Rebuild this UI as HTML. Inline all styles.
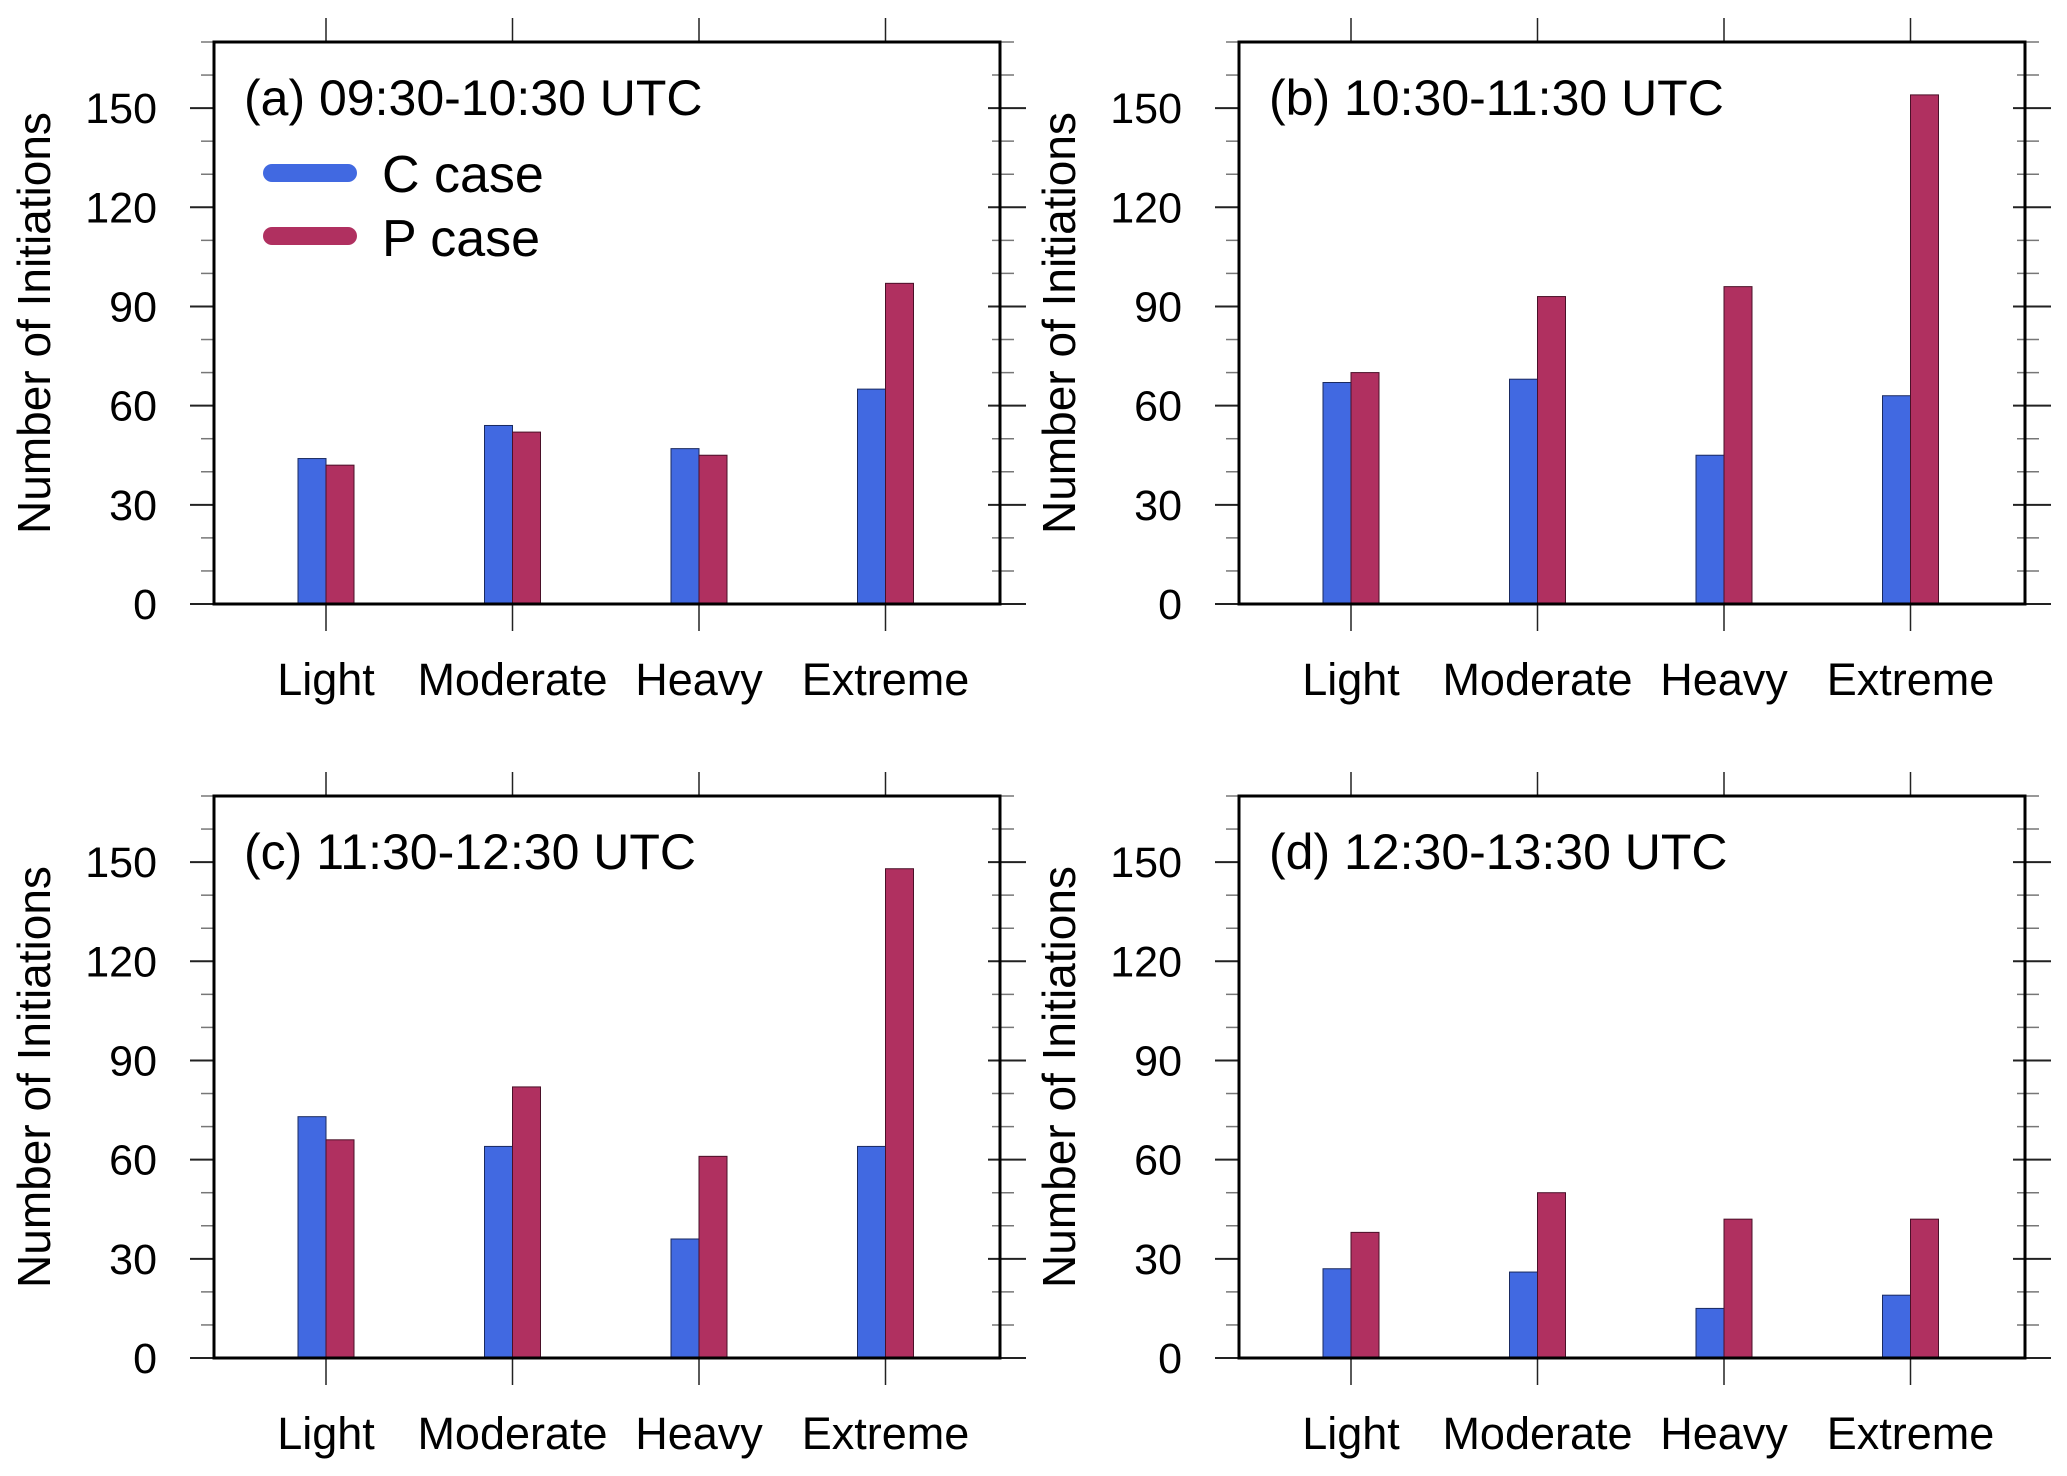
<!DOCTYPE html>
<html><head><meta charset="utf-8"><style>
html,body{margin:0;padding:0;background:#fff;}
svg{display:block;font-family:"Liberation Sans",sans-serif;}
</style></head><body>
<svg id="chart" width="2067" height="1476" viewBox="0 0 2067 1476" xmlns="http://www.w3.org/2000/svg"></svg>
<script>
const categories = ["Light","Moderate","Heavy","Extreme"];
const panelTitles = ["(a) 09:30-10:30 UTC","(b) 10:30-11:30 UTC","(c) 11:30-12:30 UTC","(d) 12:30-13:30 UTC"];
const cValuesA = [44,54,47,65];
const pValuesA = [42,52,45,97];
const cValuesB = [67,68,45,63];
const pValuesB = [70,93,96,154];
const cValuesC = [73,64,36,64];
const pValuesC = [66,82,61,148];
const cValuesD = [27,26,15,19];
const pValuesD = [38,50,42,42];
const yTickLabels = [0,30,60,90,120,150];
const yMax = 170;

const NS="http://www.w3.org/2000/svg";
const svg=document.getElementById('chart');
function mk(tag,attrs,parent){const e=document.createElementNS(NS,tag);for(const k in attrs)e.setAttribute(k,attrs[k]);(parent||svg).appendChild(e);return e;}

const panels=[
 {dx:0,dy:0,c:cValuesA,p:pValuesA,legend:true},
 {dx:1025,dy:0,c:cValuesB,p:pValuesB},
 {dx:0,dy:754,c:cValuesC,p:pValuesC},
 {dx:1025,dy:754,c:cValuesD,p:pValuesD}
];
const L=214,R=1000,T=42,B=604;
const yScale=v=>B-(v/yMax)*(B-T);
const xScale=i=>326+186.5*i;
const bw=28;

panels.forEach((pn,pi)=>{
 const g=mk('g',{transform:`translate(${pn.dx},${pn.dy})`});
 
 
 for(let v=0;v<=yMax;v+=10){
  const y=yScale(v), major=v%30===0;
  const t1=mk('line',{x1:major?190:201,x2:L,y1:y,y2:y,stroke:major?'#222':'#777','stroke-width':major?2:1.5},g);
  
  
  const t2=mk('line',{x1:major?988:992,x2:major?1026:1014,y1:y,y2:y,stroke:major?'#222':'#777','stroke-width':major?2:1.5},g);
  
  
 }
 yTickLabels.forEach(v=>{
  const t=mk('text',{x:157,y:yScale(v)+15,'text-anchor':'end','font-size':43,fill:'#000'},g);
  t.textContent=v;
  
  
 });
 categories.forEach((c,i)=>{
  const x=xScale(i);
  const tt=mk('line',{x1:x,x2:x,y1:18,y2:T,stroke:'#222','stroke-width':1.5},g);
  
  
  const tb=mk('line',{x1:x,x2:x,y1:B,y2:631,stroke:'#222','stroke-width':1.5},g);
  
  
  const lab=mk('text',{x:x,y:695,'text-anchor':'middle','font-size':45,fill:'#000'},g);
  lab.textContent=c;
  
  
  const cb=mk('rect',{x:x-bw,y:yScale(pn.c[i]),width:bw,height:B-yScale(pn.c[i]),fill:'#4169E1',stroke:'#1a2a60','stroke-width':1},g);
  
  
  const pb=mk('rect',{x:x,y:yScale(pn.p[i]),width:bw,height:B-yScale(pn.p[i]),fill:'#B03060',stroke:'#4a1028','stroke-width':1},g);
  
  
 });
 const fr=mk('rect',{x:L,y:T,width:R-L,height:B-T,fill:'none',stroke:'#000','stroke-width':3},g);
 
 
 const yt=mk('text',{x:0,y:0,transform:`translate(50,323) rotate(-90)`,'text-anchor':'middle','font-size':46,fill:'#000'},g);
 yt.textContent='Number of Initiations';
 
 
 const ti=mk('text',{x:244,y:115,'font-size':50,fill:'#000'},g);
 ti.textContent=panelTitles[pi];
 
 
 if(pn.legend){
  const l1=mk('line',{x1:272,x2:348,y1:173,y2:173,stroke:'#4169E1','stroke-width':18,'stroke-linecap':'round'},g);
  
  
  const t1=mk('text',{x:382,y:192,'font-size':52,fill:'#000'},g);
  t1.textContent='C case';
  
  
  const l2=mk('line',{x1:272,x2:348,y1:236,y2:236,stroke:'#B03060','stroke-width':18,'stroke-linecap':'round'},g);
  
  
  const t2=mk('text',{x:382,y:256,'font-size':52,fill:'#000'},g);
  t2.textContent='P case';
  
  
 }
});
</script>
</body></html>
